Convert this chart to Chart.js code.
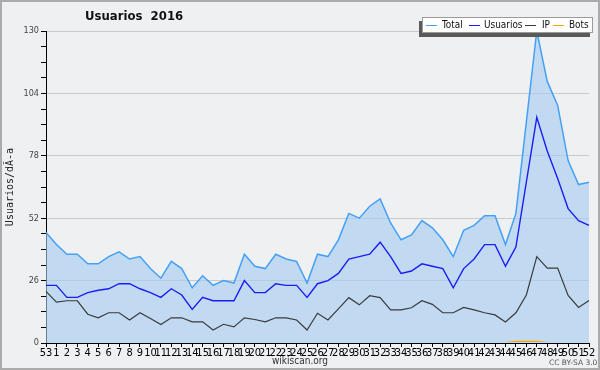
<!DOCTYPE html>
<html>
<head>
<meta charset="utf-8">
<script src="https://cdn.jsdelivr.net/npm/chart.js@4/dist/chart.umd.min.js"></script>
<style>
  html, body { margin: 0; padding: 0; background: #eff0f1; }
  #wrap { position: relative; width: 600px; height: 370px; overflow: hidden; }
  #frame { position: absolute; left: 0; top: 0; width: 600px; height: 370px; box-sizing: border-box; border: 2px solid #ababab; }
  #c { position: absolute; left: 0; top: 0; }
  #title { position: absolute; left: 85px; top: 8px; font: bold 13px "DejaVu Sans", sans-serif; color: #111; white-space: pre; transform: scaleX(0.9); transform-origin: 0 0; }
  #legend { position: absolute; left: 422px; top: 17px; width: 169px; height: 14px; background: #fff; border: 1px solid #9a9a9a; box-shadow: -3px 4px 0 #5a5a5a; font: 11px "Liberation Sans Narrow", "DejaVu Sans Condensed", sans-serif; color: #111; white-space: nowrap; line-height: 14px; }
  #legend span.sw { position: absolute; top: 7px; width: 11px; height: 0; border-top: 1.5px solid; }
  #legend span.tx { position: absolute; top: 0; transform: scaleX(0.9); transform-origin: 0 0; }
  #site { position: absolute; left: 0; width: 600px; top: 355px; text-align: center; font: 10px "Liberation Sans Narrow", "DejaVu Sans Condensed", "Liberation Sans", sans-serif; color: #333; }
  #cc { position: absolute; left: 549px; top: 358px; font: 7.5px "DejaVu Sans", sans-serif; color: #555; }
</style>
</head>
<body>
<div id="wrap">
  <div id="frame"></div>
  <canvas id="c" width="600" height="370"></canvas>
  <div id="title"></div>
  <div id="legend"></div>
  <div id="site">wikiscan.org</div>
  <div id="cc">CC BY-SA 3.0</div>
</div>
<script>
const chartTitle = "Usuarios  2016";
const yAxisTitle = "Usuarios/dÃ-a";
const weeks = ["53","1","2","3","4","5","6","7","8","9","10","11","12","13","14","15","16","17","18","19","20","21","22","23","24","25","26","27","28","29","30","31","32","33","34","35","36","37","38","39","40","41","42","43","44","45","46","47","48","49","50","51","52"];
const seriesNames = ["Total", "Usuarios", "IP", "Bots"];
const seriesColors = ["#44a0f6", "#1c1cf4", "#3a3a3a", "#ffa500"];
const total = [46,41,37,37,33,33,36,38,35,36,31,27,34,31,23,28,24,26,25,37,32,31,37,35,34,25,37,36,43,54,52,57,60,50,43,45,51,48,43,36,47,49,53,53,41,54,92,130,109,99,76,66,67];
const usuarios = [24,24,19,19,21,22,22.6,24.7,24.7,22.6,21,19,22.6,20,14,19,17.6,17.6,17.6,26,21,21,24.7,24,24,19,24.7,26,29,35,36,37,42,36,29,30,33,32,31,23,31,35,41,41,32,40,67,94,80,68.5,56,51,49];
const ip = [21.5,17,17.6,17.6,12,10.5,12.6,12.6,9.6,12.6,10.2,7.7,10.5,10.5,8.8,8.8,5.4,7.8,6.7,10.5,9.8,8.8,10.5,10.5,9.6,5.4,12.4,9.6,14.2,18.9,15.9,19.7,18.9,13.8,13.8,14.7,17.6,16.1,12.6,12.6,14.8,13.8,12.6,11.7,8.8,12.6,20,36,31.2,31.2,19.8,14.8,17.7];
const bots = [0,0,0,0,0,0,0,0,0,0,0,0,0,0,0,0,0,0,0,0,0,0,0,0,0,0,0,0,0,0,0,0,0,0,0,0,0,0,0,0,0,0,0,0,0,0.5,0.5,0.5,0,0,0,0,0];
const yMax = 130, yMajor = 26, yMinor = 6.5;

document.getElementById('title').textContent = chartTitle;
const leg = document.getElementById('legend');
const legSwatchX = [3, 46, 102, 130];
const legTextX = [19, 61, 119, 146];
seriesNames.forEach((n, i) => {
  const sw = document.createElement('span'); sw.className = 'sw';
  sw.style.borderTopColor = seriesColors[i]; sw.style.left = legSwatchX[i] + 'px';
  const tx = document.createElement('span'); tx.className = 'tx';
  tx.style.left = legTextX[i] + 'px'; tx.textContent = n;
  leg.appendChild(sw); leg.appendChild(tx);
});

const narrow = "'Liberation Sans Narrow', 'DejaVu Sans Condensed', 'Liberation Sans', sans-serif";
new Chart(document.getElementById('c'), {
  type: 'line',
  data: {
    labels: weeks,
    datasets: [
      { label: seriesNames[0], data: total, borderColor: seriesColors[0], borderWidth: 1.5, fill: 'origin', backgroundColor: 'rgba(166,205,240,0.62)', pointRadius: 0, tension: 0 },
      { label: seriesNames[1], data: usuarios, borderColor: seriesColors[1], borderWidth: 1.4, fill: false, pointRadius: 0, tension: 0 },
      { label: seriesNames[2], data: ip, borderColor: seriesColors[2], borderWidth: 1.2, fill: false, pointRadius: 0, tension: 0 },
      { label: seriesNames[3], data: bots, borderColor: seriesColors[3], borderWidth: 2, fill: false, pointRadius: 0, tension: 0, clip: {left: 0, right: 0, top: 0, bottom: -1} }
    ]
  },
  options: {
    responsive: false,
    animation: false,
    devicePixelRatio: 1,
    layout: { padding: { left: 0, top: 31, right: 11, bottom: 0 } },
    plugins: {
      legend: { display: false },
      tooltip: { enabled: false },
      filler: { drawTime: 'beforeDatasetsDraw' }
    },
    scales: {
      x: {
        type: 'category',
        offset: false,
        z: 1,
        afterFit: (s) => { s.height = 27; },
        grid: { display: true, drawOnChartArea: false, drawTicks: true, tickLength: 4, tickColor: '#000', color: '#000' },
        border: { display: true, color: '#000', width: 1 },
        ticks: { autoSkip: false, maxRotation: 0, minRotation: 0, padding: 0, color: '#000', font: { family: narrow, size: 11 } }
      },
      y: {
        min: 0, max: yMax,
        afterFit: (s) => { s.width = 46; },
        title: { display: true, text: yAxisTitle, color: '#222', font: { family: "'DejaVu Sans Mono', monospace", size: 10 }, padding: { top: 4, bottom: 0 } },
        grid: {
          color: (ctx) => (ctx.tick && Math.abs(ctx.tick.value % yMajor) < 1e-6 && ctx.tick.value > 0) ? '#c9cacc' : 'rgba(0,0,0,0)',
          tickColor: '#000', tickLength: 5, drawTicks: true, lineWidth: 1
        },
        border: { display: true, color: '#000', width: 1 },
        ticks: {
          stepSize: yMinor, autoSkip: false, padding: 2, color: '#444',
          font: { family: narrow, size: 9 },
          callback: (v) => (Math.abs(v % yMajor) < 1e-6) ? String(v) : ''
        }
      }
    }
  }
});
</script>
</body>
</html>
